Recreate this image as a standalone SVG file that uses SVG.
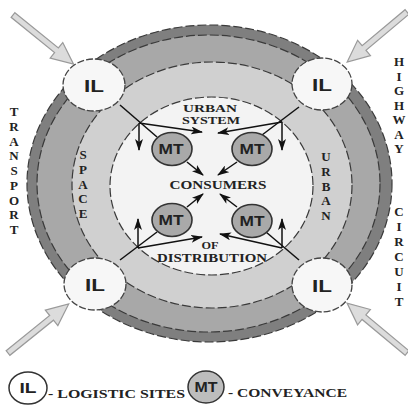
<svg xmlns="http://www.w3.org/2000/svg" xmlns:xlink="http://www.w3.org/1999/xlink" width="408" height="405" viewBox="0 0 408 405">
<style>
.ring{stroke:#3a3a3a;stroke-width:1.2;stroke-dasharray:9 3}
.il{fill:#f7f7f7;stroke:#444;stroke-width:1.3;stroke-dasharray:7 2}
.mt{fill:#a9a9a9;stroke:#333;stroke-width:1.6}
.ilt{font-family:"Liberation Sans",Arial,sans-serif;font-weight:bold;font-size:17px;fill:#222;text-anchor:middle}
.mtt{font-family:"Liberation Sans",Arial,sans-serif;font-weight:bold;font-size:14px;fill:#222;text-anchor:middle}
.lab{font-family:"Liberation Serif","Times New Roman",serif;font-weight:bold;font-size:12px;fill:#222;text-anchor:middle}
.sm{font-size:10.5px}
.vl{font-family:"Liberation Serif","Times New Roman",serif;font-weight:bold;font-size:13px;fill:#222;text-anchor:middle}
.big{fill:#dcdcdc;stroke:#9a9a9a;stroke-width:1.2}
.ar{stroke:#111;stroke-width:1.5;fill:none}
</style>
<defs>
<marker id="ah" viewBox="0 0 12 8" refX="11" refY="4" markerWidth="12" markerHeight="8" markerUnits="userSpaceOnUse" orient="auto">
<path d="M0,0 L12,4 L0,8 L3,4 Z" fill="#111"/>
</marker>
<polygon id="bigArrow" class="big" points="0,-3 56,-3 56,-10 78,0 56,10 56,3 0,3"/>
</defs>
<rect width="408" height="405" fill="#fff"/>
<g id="rings">
<ellipse class="ring" cx="209.5" cy="183.5" rx="182.5" ry="158.5" fill="#7f7f7f"/>
<ellipse class="ring" cx="208.5" cy="183.5" rx="171.5" ry="148.5" fill="#a8a8a8"/>
<ellipse class="ring" cx="212" cy="185" rx="140" ry="123" fill="#d0d0d0"/>
<ellipse class="ring" cx="211.5" cy="186" rx="101.5" ry="89" fill="#f3f3f3"/>
</g>
<g id="big-arrows">
<use xlink:href="#bigArrow" transform="translate(13,15) rotate(39.1)"/>
<use xlink:href="#bigArrow" transform="translate(407,12) rotate(140.1)"/>
<use xlink:href="#bigArrow" transform="translate(8,353) rotate(-38.9)"/>
<use xlink:href="#bigArrow" transform="translate(407,353) rotate(-140.2)"/>
</g>
<g id="connectors">
<path class="ar" d="M120,105 L157,137"/>
<path class="ar" d="M139,123 L139,150" marker-end="url(#ah)"/>
<path class="ar" d="M139,123 L202,132" marker-end="url(#ah)"/>
<path class="ar" d="M299,107 L262,135"/>
<path class="ar" d="M282,122 L282,150" marker-end="url(#ah)"/>
<path class="ar" d="M282,122 L218,133" marker-end="url(#ah)"/>
<path class="ar" d="M120,260 L157,232"/>
<path class="ar" d="M138,248 L138,219" marker-end="url(#ah)"/>
<path class="ar" d="M138,248 L202,237" marker-end="url(#ah)"/>
<path class="ar" d="M299,260 L266,232"/>
<path class="ar" d="M282,248 L282,219" marker-end="url(#ah)"/>
<path class="ar" d="M282,248 L220,234" marker-end="url(#ah)"/>
<path class="ar" d="M187,162 L203,175" marker-end="url(#ah)"/>
<path class="ar" d="M237,162 L218,175" marker-end="url(#ah)"/>
<path class="ar" d="M187,207 L203,194" marker-end="url(#ah)"/>
<path class="ar" d="M237,207 L220,194" marker-end="url(#ah)"/>
</g>
<g id="il-tl"><ellipse class="il" cx="94" cy="85" rx="31" ry="26"/><text class="ilt" x="94" y="92" textLength="20" lengthAdjust="spacingAndGlyphs">IL</text></g>
<g id="il-tr"><ellipse class="il" cx="322" cy="84" rx="30" ry="26"/><text class="ilt" x="322" y="91" textLength="20" lengthAdjust="spacingAndGlyphs">IL</text></g>
<g id="il-bl"><ellipse class="il" cx="95" cy="284" rx="31" ry="26"/><text class="ilt" x="95" y="291" textLength="20" lengthAdjust="spacingAndGlyphs">IL</text></g>
<g id="il-br"><ellipse class="il" cx="322" cy="285" rx="30" ry="27"/><text class="ilt" x="322" y="292" textLength="20" lengthAdjust="spacingAndGlyphs">IL</text></g>
<g id="mt-tl"><ellipse class="mt" cx="172" cy="149" rx="20" ry="16.5"/><text class="mtt" x="171" y="154" textLength="25" lengthAdjust="spacingAndGlyphs">MT</text></g>
<g id="mt-tr"><ellipse class="mt" cx="252" cy="149" rx="20" ry="16.5"/><text class="mtt" x="252" y="154" textLength="25" lengthAdjust="spacingAndGlyphs">MT</text></g>
<g id="mt-bl"><ellipse class="mt" cx="172" cy="220" rx="20" ry="16.5"/><text class="mtt" x="171" y="225" textLength="25" lengthAdjust="spacingAndGlyphs">MT</text></g>
<g id="mt-br"><ellipse class="mt" cx="252" cy="221" rx="20" ry="16.5"/><text class="mtt" x="252" y="226" textLength="25" lengthAdjust="spacingAndGlyphs">MT</text></g>
<g id="labels">
<text class="lab sm" x="210" y="112" textLength="54" lengthAdjust="spacingAndGlyphs">URBAN</text>
<text class="lab sm" x="211" y="123.5" textLength="58" lengthAdjust="spacingAndGlyphs">SYSTEM</text>
<text class="lab" x="218" y="189" textLength="97" lengthAdjust="spacingAndGlyphs">CONSUMERS</text>
<text class="lab sm" x="210" y="249" textLength="17" lengthAdjust="spacingAndGlyphs">OF</text>
<text class="lab" x="212" y="262" textLength="110" lengthAdjust="spacingAndGlyphs">DISTRIBUTION</text>
</g>
<g id="transport" class="vl">
<text x="14" y="116">T</text><text x="14" y="130.75">R</text><text x="14" y="145.5">A</text><text x="14" y="160.25">N</text><text x="14" y="175">S</text><text x="14" y="189.75">P</text><text x="14" y="204.5">O</text><text x="14" y="219.25">R</text><text x="14" y="234">T</text>
</g>
<g id="space" class="vl">
<text x="83" y="159">S</text><text x="83" y="173.75">P</text><text x="83" y="188.5">A</text><text x="83" y="203.25">C</text><text x="83" y="218">E</text>
</g>
<g id="urban" class="vl">
<text x="326" y="161">U</text><text x="326" y="175.75">R</text><text x="326" y="190.5">B</text><text x="326" y="205.25">A</text><text x="326" y="220">N</text>
</g>
<g id="highway" class="vl">
<text x="399" y="66">H</text><text x="399" y="80.5">I</text><text x="399" y="95">G</text><text x="399" y="109.5">H</text><text x="399" y="124">W</text><text x="399" y="138.5">A</text><text x="399" y="153">Y</text>
</g>
<g id="circuit" class="vl">
<text x="399" y="216">C</text><text x="399" y="231">I</text><text x="399" y="246">R</text><text x="399" y="261">C</text><text x="399" y="276">U</text><text x="399" y="291">I</text><text x="399" y="306">T</text>
</g>
<g id="legend">
<g id="legend-il"><ellipse cx="28" cy="388" rx="19" ry="16" fill="#fff" stroke="#333" stroke-width="1.5"/><text class="mtt" x="28" y="393" textLength="17" lengthAdjust="spacingAndGlyphs">IL</text></g>
<text class="lab" x="48" y="398" style="text-anchor:start" textLength="137" lengthAdjust="spacingAndGlyphs">- LOGISTIC SITES</text>
<g id="legend-mt"><ellipse cx="206" cy="387" rx="18" ry="16" fill="#bdbdbd" stroke="#333" stroke-width="1.5"/><text class="mtt" x="206" y="392" textLength="23" lengthAdjust="spacingAndGlyphs">MT</text></g>
<text class="lab" x="228" y="397" style="text-anchor:start" textLength="119" lengthAdjust="spacingAndGlyphs">- CONVEYANCE</text>
</g>
</svg>
